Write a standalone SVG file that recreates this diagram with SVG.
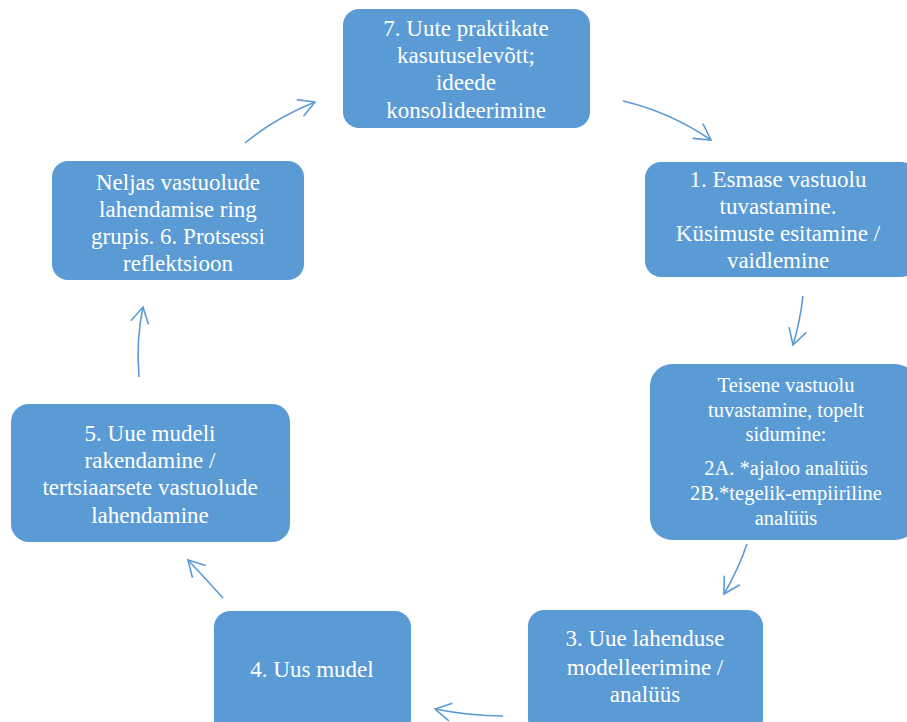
<svg xmlns="http://www.w3.org/2000/svg" width="907" height="722" viewBox="0 0 907 722">
<style>
.box{fill:#5B9BD5;}
.t{fill:#FFFFFF;text-anchor:middle;}
.c{fill:none;stroke:#5B9BD5;stroke-width:1.6;marker-end:url(#ah);}
</style>
<defs>
<marker id="ah" markerUnits="userSpaceOnUse" markerWidth="20" markerHeight="20" viewBox="0 0 20 20" refX="18" refY="10" orient="auto">
<path d="M2,1 L18,10 L2,19" fill="none" stroke="#5B9BD5" stroke-width="1.6"/>
</marker>
</defs>
<rect width="907" height="722" fill="#FFFFFF"/>
<g id="connectors">
<path class="c" d="M245,143 Q275,118 315,102"/>
<path class="c" d="M623,101 Q670,112 711,140"/>
<path class="c" d="M803,296 Q800,322 793,345"/>
<path class="c" d="M747,544 Q738,570 724,594"/>
<path class="c" d="M503,716 Q470,716 435,709"/>
<path class="c" d="M223,598 Q205,578 188,560"/>
<path class="c" d="M139,377 Q136,340 143,307"/>
</g>
<g font-family="Liberation Serif, Times New Roman, serif" font-size="23">
<g id="n7">
<rect class="box" x="343" y="9" width="247" height="119" rx="16"/>
<text class="t" x="466" y="36">7. Uute praktikate</text>
<text class="t" x="466" y="63">kasutuselevõtt;</text>
<text class="t" x="466" y="90">ideede</text>
<text class="t" x="466" y="118">konsolideerimine</text>
</g>
<g id="n1">
<rect class="box" x="645" y="162" width="272" height="115" rx="16"/>
<text class="t" x="778" y="187">1. Esmase vastuolu</text>
<text class="t" x="778" y="214">tuvastamine.</text>
<text class="t" x="778" y="241">Küsimuste esitamine /</text>
<text class="t" x="778" y="268">vaidlemine</text>
</g>
<g id="n2" font-size="20.5">
<rect class="box" x="650" y="364" width="267" height="176" rx="22"/>
<text class="t" x="786" y="392">Teisene vastuolu</text>
<text class="t" x="786" y="417">tuvastamine, topelt</text>
<text class="t" x="786" y="441">sidumine:</text>
<text class="t" x="786" y="475">2A. *ajaloo analüüs</text>
<text class="t" x="786" y="500">2B.*tegelik-empiiriline</text>
<text class="t" x="786" y="525">analüüs</text>
</g>
<g id="n3">
<rect class="box" x="528" y="610" width="235" height="125" rx="16"/>
<text class="t" x="645" y="646">3. Uue lahenduse</text>
<text class="t" x="645" y="675">modelleerimine /</text>
<text class="t" x="645" y="702">analüüs</text>
</g>
<g id="n4">
<rect class="box" x="214" y="611" width="197" height="125" rx="16"/>
<text class="t" x="312" y="677">4. Uus mudel</text>
</g>
<g id="n5">
<rect class="box" x="11" y="404" width="279" height="138" rx="18"/>
<text class="t" x="150" y="441">5. Uue mudeli</text>
<text class="t" x="150" y="468">rakendamine /</text>
<text class="t" x="150" y="495">tertsiaarsete vastuolude</text>
<text class="t" x="150" y="523">lahendamine</text>
</g>
<g id="n6">
<rect class="box" x="52" y="161" width="252" height="119" rx="16"/>
<text class="t" x="178" y="190">Neljas vastuolude</text>
<text class="t" x="178" y="217">lahendamise ring</text>
<text class="t" x="178" y="244">grupis. 6. Protsessi</text>
<text class="t" x="178" y="271">reflektsioon</text>
</g>
</g>
</svg>
